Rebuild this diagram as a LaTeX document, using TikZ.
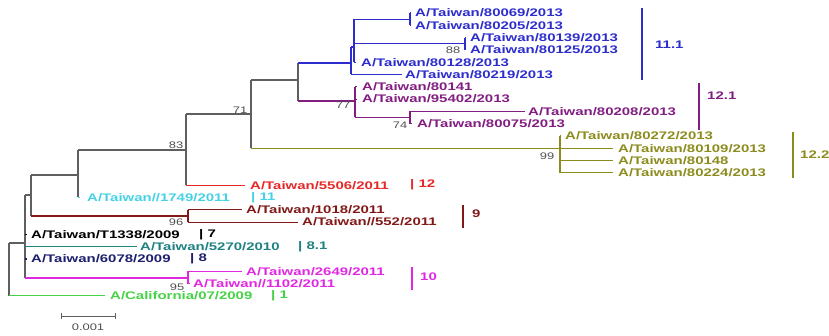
\documentclass[tikz,border=0pt]{standalone}
\usepackage{fontspec}
\newfontfamily\labfont[FakeStretch=1.36]{Liberation Sans}
\definecolor{cblue}{RGB}{45,45,205}
\definecolor{cpurple}{RGB}{130,30,130}
\definecolor{colive}{RGB}{140,140,30}
\definecolor{cred}{RGB}{230,40,40}
\definecolor{ccyan}{RGB}{70,210,230}
\definecolor{cbrown}{RGB}{130,25,25}
\definecolor{cteal}{RGB}{30,130,130}
\definecolor{cnavy}{RGB}{30,30,110}
\definecolor{cmag}{RGB}{225,40,225}
\definecolor{cgreen}{RGB}{70,210,70}
\definecolor{cgray}{RGB}{95,95,95}
\definecolor{cboot}{RGB}{80,80,80}
\begin{document}
\begin{tikzpicture}[x=1pt,y=-1pt,
  tip/.style={font=\labfont\bfseries\fontsize{11}{12}\selectfont, anchor=west, inner sep=0pt},
  grp/.style={font=\labfont\bfseries\fontsize{11}{12}\selectfont, anchor=west, inner sep=0pt},
  boot/.style={font=\labfont\fontsize{9.5}{10}\selectfont, text=cboot, inner sep=0pt},
  br/.style={line width=1.15pt},
  brk/.style={line width=1.3pt}]
\useasboundingbox (0,0) rectangle (829,336);
% internal nodes
\coordinate (root) at (9,270);
\coordinate (n1) at (25,243);
\coordinate (n2) at (31,195);
\coordinate (n3) at (78,175);
\coordinate (n83) at (186,150);
\coordinate (n71) at (251,114);
\coordinate (n5) at (298,80);
\coordinate (n11) at (351,63);
\coordinate (n11a) at (354,47);
\coordinate (n11b) at (410,19.2);
\coordinate (n11c) at (465,43.8);
\coordinate (n12) at (355,101);
\coordinate (n12b) at (410,117.5);
\coordinate (nol) at (560,148.3);
\coordinate (n9) at (188,216);
\coordinate (n10) at (188,278);
% tips
\coordinate (t0) at (411,13.0);
\coordinate (t1) at (411,25.3);
\coordinate (t2) at (466,37.6);
\coordinate (t3) at (466,49.9);
\coordinate (t4) at (356,62.2);
\coordinate (t5) at (402,74.5);
\coordinate (t6) at (357,86.8);
\coordinate (t7) at (357,99.1);
\coordinate (t8) at (525,111.4);
\coordinate (t9) at (412,123.7);
\coordinate (t10) at (561,136.0);
\coordinate (t11) at (613,148.3);
\coordinate (t12) at (613,160.6);
\coordinate (t13) at (613,172.9);
\coordinate (t14) at (245,185.2);
\coordinate (t15) at (80,197.5);
\coordinate (t16) at (242,209.8);
\coordinate (t17) at (298,222.1);
\coordinate (t18) at (27,234.4);
\coordinate (t19) at (137,246.7);
\coordinate (t20) at (27,259.0);
\coordinate (t21) at (242,271.3);
\coordinate (t22) at (190,283.6);
\coordinate (t23) at (105,295.9);
% labels
\node[tip,text=cblue] (l0) at (415,13.0) {A/Taiwan/80069/2013};
\node[tip,text=cblue] (l1) at (415,25.3) {A/Taiwan/80205/2013};
\node[tip,text=cblue] (l2) at (470,37.6) {A/Taiwan/80139/2013};
\node[tip,text=cblue] (l3) at (470,49.9) {A/Taiwan/80125/2013};
\node[tip,text=cblue] (l4) at (361,62.2) {A/Taiwan/80128/2013};
\node[tip,text=cblue] (l5) at (405,74.5) {A/Taiwan/80219/2013};
\node[tip,text=cpurple] (l6) at (362,86.8) {A/Taiwan/80141};
\node[tip,text=cpurple] (l7) at (362,99.1) {A/Taiwan/95402/2013};
\node[tip,text=cpurple] (l8) at (528,111.4) {A/Taiwan/80208/2013};
\node[tip,text=cpurple] (l9) at (417,123.7) {A/Taiwan/80075/2013};
\node[tip,text=colive] (l10) at (565,136.0) {A/Taiwan/80272/2013};
\node[tip,text=colive] (l11) at (618,148.3) {A/Taiwan/80109/2013};
\node[tip,text=colive] (l12) at (618,160.6) {A/Taiwan/80148};
\node[tip,text=colive] (l13) at (618,172.9) {A/Taiwan/80224/2013};
\node[tip,text=cred] (l14) at (250,185.2) {A/Taiwan/5506/2011};
\node[tip,text=ccyan] (l15) at (87,197.5) {A/Taiwan//1749/2011};
\node[tip,text=cbrown] (l16) at (246,209.8) {A/Taiwan/1018/2011};
\node[tip,text=cbrown] (l17) at (302,222.1) {A/Taiwan//552/2011};
\node[tip,text=black] (l18) at (31,234.4) {A/Taiwan/T1338/2009};
\node[tip,text=cteal] (l19) at (140,246.7) {A/Taiwan/5270/2010};
\node[tip,text=cnavy] (l20) at (31,259.0) {A/Taiwan/6078/2009};
\node[tip,text=cmag] (l21) at (246,271.3) {A/Taiwan/2649/2011};
\node[tip,text=cmag] (l22) at (193,283.6) {A/Taiwan//1102/2011};
\node[tip,text=cgreen] (l23) at (110,295.9) {A/California/07/2009};
% inline group marks
\node[grp,text=cred] (g12) at (410,185.2) {| 12};
\node[grp,text=ccyan] (g11) at (251,197.5) {| 11};
\node[grp,text=black] (g7) at (199,234.4) {| 7};
\node[grp,text=cteal] (g81) at (298,246.7) {| 8.1};
\node[grp,text=cnavy] (g8) at (190,259.0) {| 8};
\node[grp,text=cgreen] (g1) at (271,295.9) {| 1};
% tree: backbone
\draw[br,cgray] (root|-n1) -- (root|-t23);
\draw[br,cgray] (root|-n1) -- (n1);
\draw[br,cgreen] (root|-t23) -- (t23);
\draw[br,cgray] (n1|-n2) -- (n1|-n10);
\draw[br,cgray] (n1|-n2) -- (n2);
\draw[br,black] (n1|-t18) -- (t18);
\draw[br,cteal] (n1|-t19) -- (t19);
\draw[br,cnavy] (n1|-t20) -- (t20);
\draw[br,cmag] (n1|-n10) -- (n10);
\draw[br,cgray] (n2|-n3) -- (n2|-n9);
\draw[br,cgray] (n2|-n3) -- (n3);
\draw[br,cbrown] (n2|-n9) -- (n9);
\draw[br,cgray] (n3|-n83) -- (n3|-t15);
\draw[br,cgray] (n3|-n83) -- (n83);
\draw[br,ccyan] (n3|-t15) -- (t15);
\draw[br,cgray] (n83|-n71) -- (n83|-t14);
\draw[br,cgray] (n83|-n71) -- (n71);
\draw[br,cred] (n83|-t14) -- (t14);
\draw[br,cgray] (n71|-n5) -- (n71|-nol);
\draw[br,cgray] (n71|-n5) -- (n5);
\draw[br,colive] (n71|-nol) -- (nol);
\draw[br,cgray] (n5|-n11) -- (n5|-n12);
\draw[br,cblue] (n5|-n11) -- (n11);
\draw[br,cpurple] (n5|-n12) -- (n12);
% blue clade
\draw[br,cblue] (n11|-n11a) -- (n11|-t5);
\draw[br,cblue] (n11|-n11a) -- (n11a);
\draw[br,cblue] (n11|-t5) -- (t5);
\draw[br,cblue] (n11a|-n11b) -- (n11a|-t4);
\draw[br,cblue] (n11a|-n11b) -- (n11b);
\draw[br,cblue] (n11a|-n11c) -- (n11c);
\draw[br,cblue] (n11a|-t4) -- (t4);
\draw[br,cblue] (n11b|-t0) -- (n11b|-t1);
\draw[br,cblue] (n11b|-t0) -- (t0);
\draw[br,cblue] (n11b|-t1) -- (t1);
\draw[br,cblue] (n11c|-t2) -- (n11c|-t3);
\draw[br,cblue] (n11c|-t2) -- (t2);
\draw[br,cblue] (n11c|-t3) -- (t3);
% purple clade
\draw[br,cpurple] (n12|-t6) -- (n12|-n12b);
\draw[br,cpurple] (n12|-t6) -- (t6);
\draw[br,cpurple] (n12|-t7) -- (t7);
\draw[br,cpurple] (n12|-n12b) -- (n12b);
\draw[br,cpurple] (n12b|-t8) -- (n12b|-t9);
\draw[br,cpurple] (n12b|-t8) -- (t8);
\draw[br,cpurple] (n12b|-t9) -- (t9);
% olive clade
\draw[br,colive] (nol|-t10) -- (nol|-t13);
\draw[br,colive] (nol|-t10) -- (t10);
\draw[br,colive] (nol|-t11) -- (t11);
\draw[br,colive] (nol|-t12) -- (t12);
\draw[br,colive] (nol|-t13) -- (t13);
% brown clade
\draw[br,cbrown] (n9|-t16) -- (n9|-t17);
\draw[br,cbrown] (n9|-t16) -- (t16);
\draw[br,cbrown] (n9|-t17) -- (t17);
% magenta clade
\draw[br,cmag] (n10|-t21) -- (n10|-t22);
\draw[br,cmag] (n10|-t21) -- (t21);
\draw[br,cmag] (n10|-t22) -- (t22);
% bootstrap values
\node[boot] (b71) at (240,110) {71};
\node[boot] (b83) at (176,145) {83};
\node[boot] (b88) at (453,50) {88};
\node[boot] (b77) at (343,105) {77};
\node[boot] (b74) at (400,125) {74};
\node[boot] (b99) at (547,156) {99};
\node[boot] (b96) at (176,222) {96};
\node[boot] (b95) at (177,287) {95};
% clade brackets
\coordinate (k1a) at (642,8);  \coordinate (k1b) at (642,80);
\draw[brk,cblue] (k1a) -- (k1b);
\node[grp,text=cblue] (k1) at (655,45) {11.1};
\coordinate (k2a) at (699,83); \coordinate (k2b) at (699,130);
\draw[brk,cpurple] (k2a) -- (k2b);
\node[grp,text=cpurple] (k2) at (707,96) {12.1};
\coordinate (k3a) at (793,132); \coordinate (k3b) at (793,178);
\draw[brk,colive] (k3a) -- (k3b);
\node[grp,text=colive] (k3) at (800,155) {12.2};
\coordinate (k4a) at (463,205); \coordinate (k4b) at (463,228);
\draw[brk,cbrown] (k4a) -- (k4b);
\node[grp,text=cbrown] (k4) at (472,214) {9};
\coordinate (k5a) at (412,267); \coordinate (k5b) at (412,290);
\draw[brk,cmag] (k5a) -- (k5b);
\node[grp,text=cmag] (k5) at (420,277) {10};
% scale bar
\coordinate (sb1) at (61,316);
\coordinate (sb2) at (115,316);
\draw[line width=1pt,cgray] (sb1) -- (sb2);
\draw[line width=1pt,cgray] ([yshift=3pt]sb1) -- ([yshift=-3pt]sb1);
\draw[line width=1pt,cgray] ([yshift=3pt]sb2) -- ([yshift=-3pt]sb2);
\node[boot] (sbl) at (88,327) {0.001};
\end{tikzpicture}
\end{document}
